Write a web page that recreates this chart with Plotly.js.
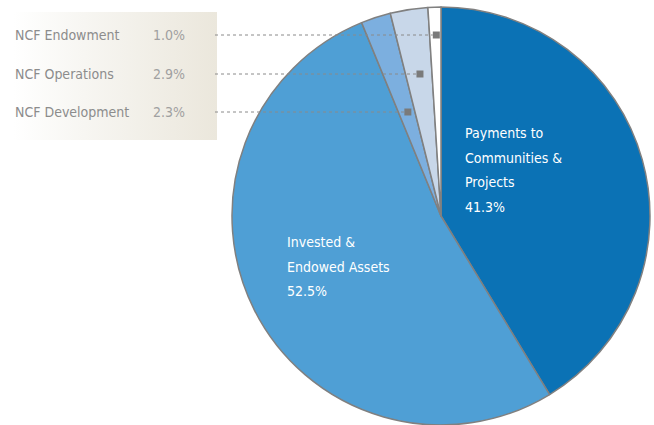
<!DOCTYPE html>
<html>
<head>
<meta charset="utf-8">
<script src="https://cdn.plot.ly/plotly-3.0.1.min.js"></script>
<style>
	html, body { margin: 0; padding: 0; background: #fff; }
	#chart { width: 654px; height: 425px; }
</style>
</head>
<body>
<div id="chart"></div>
<script>
// slices, clockwise from 12 o'clock
var labels = ['Payments to Communities & Projects', 'Invested & Endowed Assets', 'NCF Development', 'NCF Operations', 'NCF Endowment'];
var values = [41.3, 52.5, 2.3, 2.9, 1.0];
var colors = ['#0b72b5', '#4f9fd5', '#7cafdf', '#c8d7e9', '#ffffff'];

// small slices listed in the box at the top left
var boxNames = ['NCF Endowment', 'NCF Operations', 'NCF Development'];
var boxValues = [1.0, 2.9, 2.3];

// lines of the labels inside the big slices
var payText = ['Payments to', 'Communities &', 'Projects', '41.3%'];
var investText = ['Invested &', 'Endowed Assets', '52.5%'];

var W = 654, H = 425;
var cx = 441, cy = 216, R = 209;
var FONT = '"DejaVu Sans Condensed", "Liberation Sans Narrow", sans-serif';

var pie = {
	type: 'pie',
	labels: labels,
	values: values,
	sort: false,
	direction: 'clockwise',
	rotation: 0,
	textinfo: 'none',
	hoverinfo: 'label+percent',
	showlegend: false,
	marker: {colors: colors, line: {color: '#808080', width: 1.5}},
	domain: {x: [(cx - R) / W, (cx + R) / W], y: [1 - (cy + R) / H, 1 - (cy - R) / H]}
};

// invisible trace so the pixel-like x / y axes exist for the callouts
var axisTrace = {
	type: 'scatter', mode: 'markers', x: [0], y: [0],
	marker: {opacity: 0}, hoverinfo: 'skip', showlegend: false
};

// callouts: marker on the middle angle of each small slice, at the row height
var rowY = [35, 74, 112];
var total = values.reduce(function(s, v) { return s + v; }, 0);
var shapes = [];
boxNames.forEach(function(name, i) {
	var k = labels.indexOf(name);
	var before = 0;
	for (var j = 0; j < k; j++) { before += values[j]; }
	var mid = (before + values[k] / 2) / total * 2 * Math.PI;
	var mx = cx + (cy - rowY[i]) * Math.tan(mid) + 1;
	shapes.push({
		type: 'line', xref: 'x', yref: 'y', layer: 'above',
		x0: 215, x1: mx - 3.5, y0: rowY[i], y1: rowY[i],
		line: {color: '#8a8a8a', width: 1, dash: 'dot'}
	});
	shapes.push({
		type: 'rect', xref: 'x', yref: 'y', layer: 'above',
		x0: mx - 3.5, x1: mx + 3.5, y0: rowY[i] - 3.5, y1: rowY[i] + 3.5,
		fillcolor: '#7a7a7a', line: {width: 0}
	});
});

var annotations = [];
boxNames.forEach(function(name, i) {
	annotations.push({
		xref: 'x', yref: 'y', x: 13, y: rowY[i], text: name, showarrow: false,
		xanchor: 'left', yanchor: 'middle', font: {family: FONT, size: 14, color: '#8c8c8c'}
	});
	annotations.push({
		xref: 'x', yref: 'y', x: 151, y: rowY[i], text: boxValues[i].toFixed(1) + '%', showarrow: false,
		xanchor: 'left', yanchor: 'middle', font: {family: FONT, size: 14, color: '#a0a0a0'}
	});
});
payText.forEach(function(t, i) {
	annotations.push({
		xref: 'x', yref: 'y', x: 463, y: 133 + i * 24.5, text: t, showarrow: false,
		xanchor: 'left', yanchor: 'middle', font: {family: FONT, size: 14, color: '#ffffff'}
	});
});
investText.forEach(function(t, i) {
	annotations.push({
		xref: 'x', yref: 'y', x: 285, y: 242 + i * 24.5, text: t, showarrow: false,
		xanchor: 'left', yanchor: 'middle', font: {family: FONT, size: 14, color: '#ffffff'}
	});
});

var grad = '<svg xmlns="http://www.w3.org/2000/svg" width="204" height="128">' +
	'<defs><linearGradient id="g" x1="0" y1="0" x2="1" y2="0">' +
	'<stop offset="0" stop-color="#ffffff"/><stop offset="0.35" stop-color="#f7f6f2"/><stop offset="1" stop-color="#ebe7dc"/>' +
	'</linearGradient></defs><rect width="204" height="128" fill="url(#g)"/></svg>';

var layout = {
	width: W,
	height: H,
	margin: {l: 0, r: 0, t: 0, b: 0},
	paper_bgcolor: '#ffffff',
	plot_bgcolor: 'rgba(0,0,0,0)',
	showlegend: false,
	xaxis: {range: [0, W], domain: [0, 1], visible: false, fixedrange: true},
	yaxis: {range: [H, 0], domain: [0, 1], visible: false, fixedrange: true},
	images: [{
		source: 'data:image/svg+xml;charset=utf-8,' + encodeURIComponent(grad),
		xref: 'x', yref: 'y', x: 13, y: 12, sizex: 204, sizey: 128,
		xanchor: 'left', yanchor: 'top', sizing: 'stretch', layer: 'below'
	}],
	shapes: shapes,
	annotations: annotations
};

Plotly.newPlot('chart', [axisTrace, pie], layout, {displayModeBar: false, staticPlot: true});
</script>
</body>
</html>
